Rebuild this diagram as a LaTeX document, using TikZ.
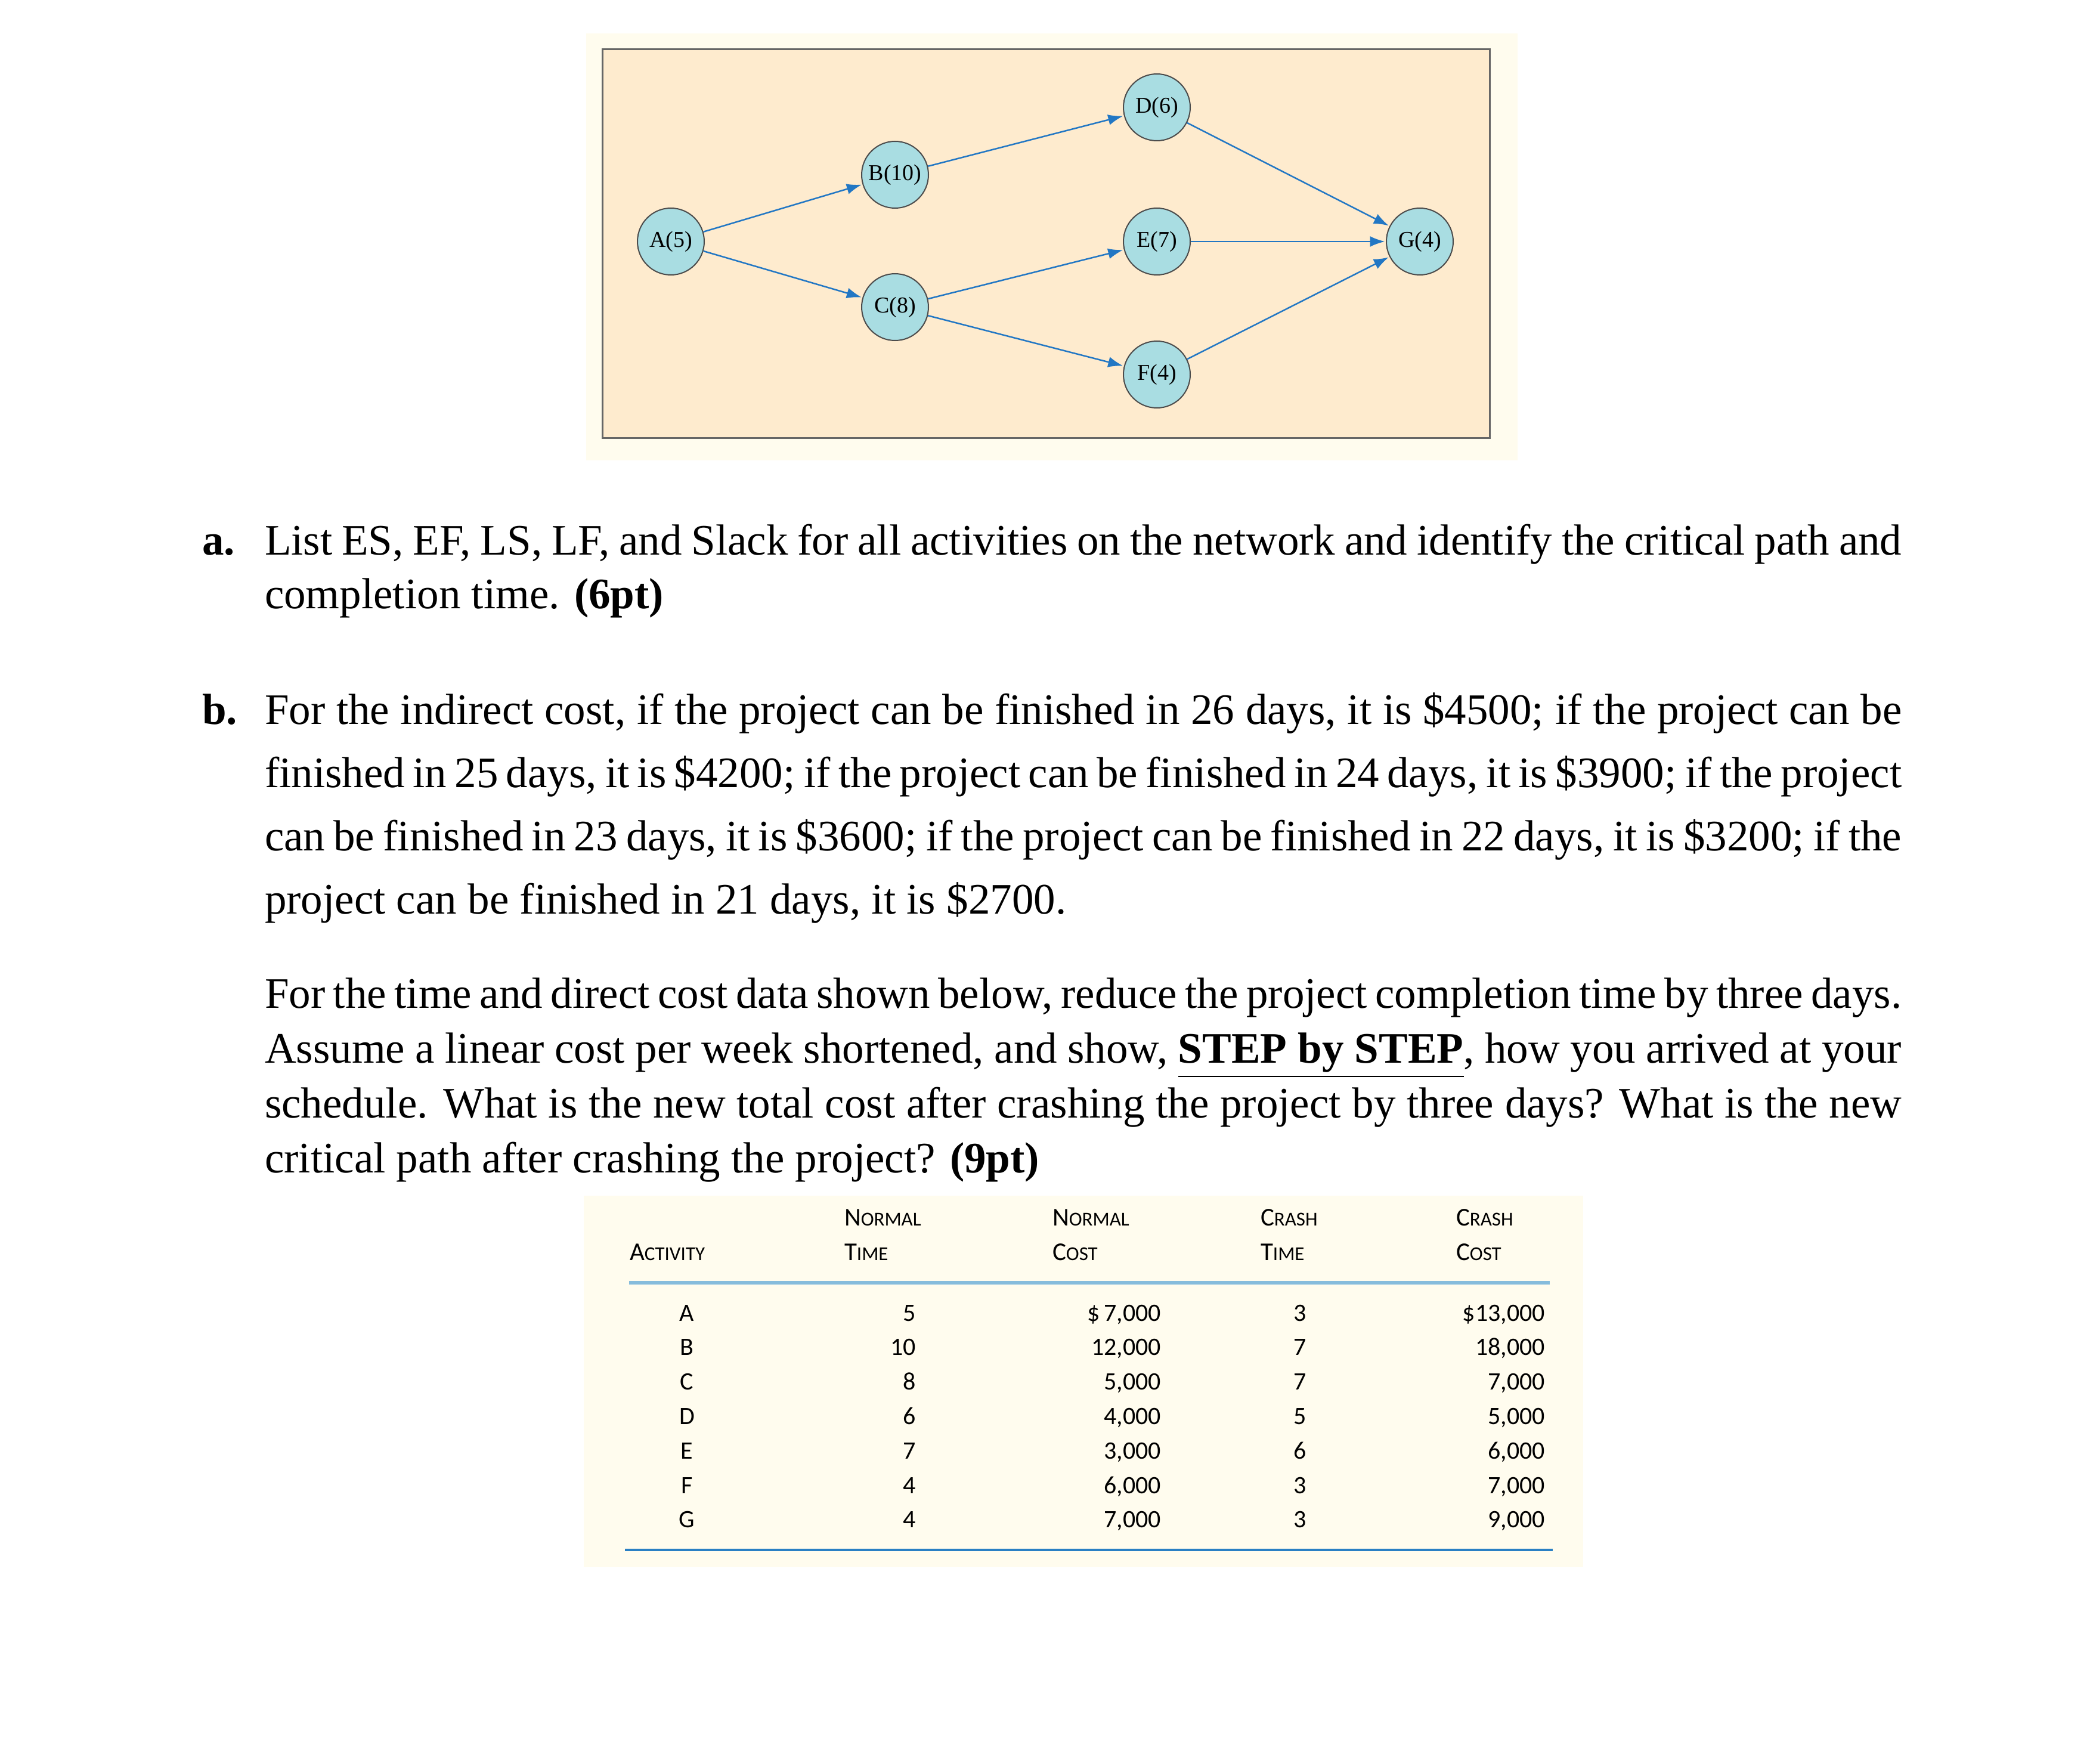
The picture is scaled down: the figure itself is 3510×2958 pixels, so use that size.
\documentclass[tikz,border=0pt]{standalone}
\usepackage{fontspec}
\setmainfont{Liberation Serif}
\newfontfamily\tabfont{Carlito}
\usetikzlibrary{arrows.meta}
\definecolor{cream}{HTML}{FFFCEE}
\definecolor{boxfill}{HTML}{FEEBCE}
\definecolor{nodefill}{HTML}{A9DDE2}
\definecolor{arrowblue}{HTML}{2277C4}
\definecolor{rulelight}{HTML}{86BCDC}
\definecolor{ruledark}{HTML}{2A80C4}
\tikzset{
  act/.style={circle,draw=black!70,fill=nodefill,minimum size=22.4pt,inner sep=0pt,font=\fontsize{7.6}{8}\selectfont},
  arr/.style={-{Latex[length=5pt,width=3.6pt]},draw=arrowblue,line width=0.5pt,shorten >=0.3pt},
  tline/.style={anchor=base west,inner sep=0pt,font=\fontsize{14.6}{18}\selectfont},
  hd/.style={anchor=base west,inner sep=0pt,font=\tabfont\fontsize{8.6}{9}\selectfont},
  cell/.style={anchor=base east,inner sep=0pt,font=\tabfont\fontsize{8.4}{9}\selectfont},
  cellc/.style={anchor=base,inner sep=0pt,font=\tabfont\fontsize{8.4}{9}\selectfont}
}
\newcommand{\sct}[2]{#1{\fontsize{6.6}{7}\selectfont #2}}
\newcommand{\jline}[1]{\hbox to 549pt{#1}}
\begin{document}
\begin{tikzpicture}[x=0.2pt,y=-0.2pt]
\useasboundingbox[fill=white] (0,0) rectangle (3510,2958);
% network
\fill[cream] (983,56) rectangle (2545,772);
\draw[fill=boxfill,draw=black!60,line width=0.6pt] (1010,83) rectangle (2498,734);
\node[act] (A) at (1125,405) {A(5)};
\node[act] (B) at (1501,293) {B(10)};
\node[act] (C) at (1501,515) {C(8)};
\node[act] (D) at (1940,180) {D(6)};
\node[act] (E) at (1940,405) {E(7)};
\node[act] (F) at (1940,628) {F(4)};
\node[act] (G) at (2381,405) {G(4)};
\draw[arr] (A) -- (B);
\draw[arr] (A) -- (C);
\draw[arr] (B) -- (D);
\draw[arr] (C) -- (E);
\draw[arr] (C) -- (F);
\draw[arr] (D) -- (G);
\draw[arr] (E) -- (G);
\draw[arr] (F) -- (G);
% text
\node[tline,font=\fontsize{14.6}{18}\selectfont\bfseries] (la) at (338,930) {a.};
\node[tline] (a1) at (443,930) {\jline{List ES, EF, LS, LF, and Slack for all activities on the network and identify the critical path and}};
\node[tline] (a2) at (443,1020) {completion time. \textbf{(6pt)}};
\node[tline,font=\fontsize{14.6}{18}\selectfont\bfseries] (lb) at (338,1214) {b.};
\node[tline] (b1) at (443,1214) {\jline{For the indirect cost, if the project can be finished in 26 days, it is \$4500; if the project can be}};
\node[tline] (b2) at (443,1320) {\jline{finished in 25 days, it is \$4200; if the project can be finished in 24 days, it is \$3900; if the project}};
\node[tline] (b3) at (443,1426) {\jline{can be finished in 23 days, it is \$3600; if the project can be finished in 22 days, it is \$3200; if the}};
\node[tline] (b4) at (443,1532) {project can be finished in 21 days, it is \$2700.};
\node[tline] (c1) at (443,1690) {\jline{For the time and direct cost data shown below, reduce the project completion time by three days.}};
\node[tline] (c2) at (443,1782) {\jline{Assume a linear cost per week shortened, and show, \textbf{\underline{STEP by STEP}}, how you arrived at your}};
\node[tline] (c3) at (443,1874) {\jline{schedule. What is the new total cost after crashing the project by three days? What is the new}};
\node[tline] (c4) at (443,1966) {critical path after crashing the project? \textbf{(9pt)}};
% table
\fill[cream] (979,2005) rectangle (2655,2628);
\node[hd] (h1) at (1055,2113) {\sct{A}{CTIVITY}};
\node[hd] (h2a) at (1415,2055) {\sct{N}{ORMAL}};
\node[hd] (h2b) at (1415,2113) {\sct{T}{IME}};
\node[hd] (h3a) at (1764,2055) {\sct{N}{ORMAL}};
\node[hd] (h3b) at (1764,2113) {\sct{C}{OST}};
\node[hd] (h4a) at (2113,2055) {\sct{C}{RASH}};
\node[hd] (h4b) at (2113,2113) {\sct{T}{IME}};
\node[hd] (h5a) at (2441,2055) {\sct{C}{RASH}};
\node[hd] (h5b) at (2441,2113) {\sct{C}{OST}};
\draw[rulelight,line width=1.1pt] (1055,2151) -- (2599,2151);
\draw[ruledark,line width=0.8pt] (1048,2599) -- (2604,2599);
\foreach \a/\nt/\nc/\ct/\cc [count=\i from 0] in {A/5/{\$\,7{,}000}/3/{\$13{,}000},B/10/{12{,}000}/7/{18{,}000},C/8/{5{,}000}/7/{7{,}000},D/6/{4{,}000}/5/{5{,}000},E/7/{3{,}000}/6/{6{,}000},F/4/{6{,}000}/3/{7{,}000},G/4/{7{,}000}/3/{9{,}000}}{
  \pgfmathsetmacro{\yy}{2215+57.8*\i}
  \node[cellc] (ra\i) at (1152,\yy) {\a};
  \node[cell] (rb\i) at (1537,\yy) {\nt};
  \node[cell] (rc\i) at (1948,\yy) {\nc};
  \node[cellc] (rd\i) at (2180,\yy) {\ct};
  \node[cell] (re\i) at (2592,\yy) {\cc};
}
\end{tikzpicture}
\end{document}
